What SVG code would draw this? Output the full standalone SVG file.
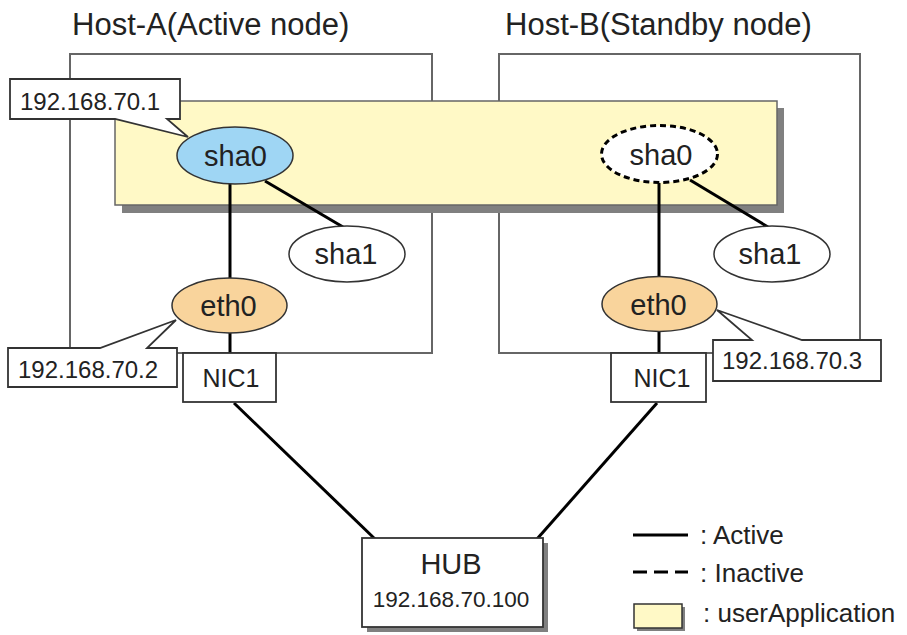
<svg xmlns="http://www.w3.org/2000/svg" width="907" height="635" viewBox="0 0 907 635">
<style>
text{font-family:"Liberation Sans",Arial,sans-serif;fill:#222}
.title{font-size:31px}
.node{font-size:29px;text-anchor:middle}
.nic{font-size:25px;text-anchor:middle}
.ip{font-size:24px}
.leg{font-size:26px}
.host{fill:#fff;stroke:#666;stroke-width:2}
.box{fill:#fff;stroke:#333;stroke-width:1.8}
.shadow{fill:#808080}
.conn{stroke:#000;stroke-width:3;fill:none}
</style>
<rect width="907" height="635" fill="#fff"/>
<text class="title" x="72" y="35">Host-A(Active node)</text>
<text class="title" x="505" y="35">Host-B(Standby node)</text>
<g id="hostA"><rect class="host" x="70" y="54" width="362" height="299"/></g>
<g id="hostB"><rect class="host" x="499" y="54" width="361" height="299"/></g>
<g id="userApplication">
<rect class="shadow" x="122" y="108" width="662" height="105"/>
<rect x="115" y="101" width="662" height="104" fill="#fff9c6" stroke="#666" stroke-width="1.5"/>
</g>
<g id="connectors">
<line class="conn" x1="230" y1="183" x2="230" y2="279"/>
<line class="conn" x1="265" y1="181" x2="343" y2="227"/>
<line class="conn" x1="230" y1="333" x2="230" y2="354"/>
<line class="conn" x1="234" y1="403" x2="375" y2="539"/>
<line class="conn" x1="659" y1="183" x2="659" y2="277"/>
<line class="conn" x1="690" y1="180" x2="768" y2="227"/>
<line class="conn" x1="659" y1="331" x2="659" y2="354"/>
<line class="conn" x1="657" y1="403" x2="537" y2="539"/>
</g>
<g id="sha0A"><ellipse cx="235" cy="155.5" rx="58" ry="28.5" fill="#9fd6f4" stroke="#333" stroke-width="1.5"/><text class="node" x="235.5" y="166">sha0</text></g>
<g id="sha1A"><ellipse cx="347" cy="254" rx="58" ry="28" fill="#fff" stroke="#333" stroke-width="1.5"/><text class="node" x="346" y="264">sha1</text></g>
<g id="eth0A"><ellipse cx="229.5" cy="305.5" rx="57.5" ry="27.5" fill="#f9d49c" stroke="#333" stroke-width="1.5"/><text class="node" x="228.5" y="316">eth0</text></g>
<g id="sha0B"><ellipse cx="659.5" cy="154" rx="58" ry="28.5" fill="#fff" stroke="#000" stroke-width="3" stroke-dasharray="6,4"/><text class="node" x="661" y="165">sha0</text></g>
<g id="sha1B"><ellipse cx="772" cy="254" rx="58" ry="28" fill="#fff" stroke="#333" stroke-width="1.5"/><text class="node" x="770" y="264">sha1</text></g>
<g id="eth0B"><ellipse cx="659.5" cy="304" rx="57.5" ry="27.5" fill="#f9d49c" stroke="#333" stroke-width="1.5"/><text class="node" x="658.5" y="315">eth0</text></g>
<g id="nic1A"><rect class="box" x="183" y="353" width="93" height="49"/><text class="nic" x="231" y="387">NIC1</text></g>
<g id="nic1B"><rect class="box" x="611" y="353" width="95" height="49"/><text class="nic" x="662" y="387">NIC1</text></g>
<g id="ipA1"><path class="box" d="M10,79 H180 V119 H167 L188,137 L115,119 H10 Z"/><text class="ip" x="20" y="110">192.168.70.1</text></g>
<g id="ipA2"><path class="box" d="M8,348 H100 L176,320 L147,348 H177 V387 H8 Z"/><text class="ip" x="18" y="378">192.168.70.2</text></g>
<g id="ipB"><path class="box" d="M713,340 H752 L717,310 L802,340 H881 V381 H713 Z"/><text class="ip" x="722" y="369">192.168.70.3</text></g>
<g id="hub">
<rect class="shadow" x="367" y="543" width="181" height="89"/>
<rect class="box" x="362" y="538" width="181" height="89"/>
<text x="451" y="574" font-size="29" text-anchor="middle">HUB</text>
<text x="451" y="607" font-size="22.5" text-anchor="middle">192.168.70.100</text>
</g>
<g id="legend">
<line x1="633" y1="535" x2="688" y2="535" stroke="#000" stroke-width="3"/>
<text class="leg" x="700" y="544">: Active</text>
<line x1="633" y1="572" x2="688" y2="572" stroke="#000" stroke-width="3" stroke-dasharray="14,7"/>
<text class="leg" x="700" y="582">: Inactive</text>
<rect class="shadow" x="637" y="607" width="48" height="24"/>
<rect x="634" y="604" width="48" height="24" fill="#fff9c6" stroke="#333" stroke-width="1.5"/>
<text class="leg" x="703" y="622">: userApplication</text>
</g>
</svg>
